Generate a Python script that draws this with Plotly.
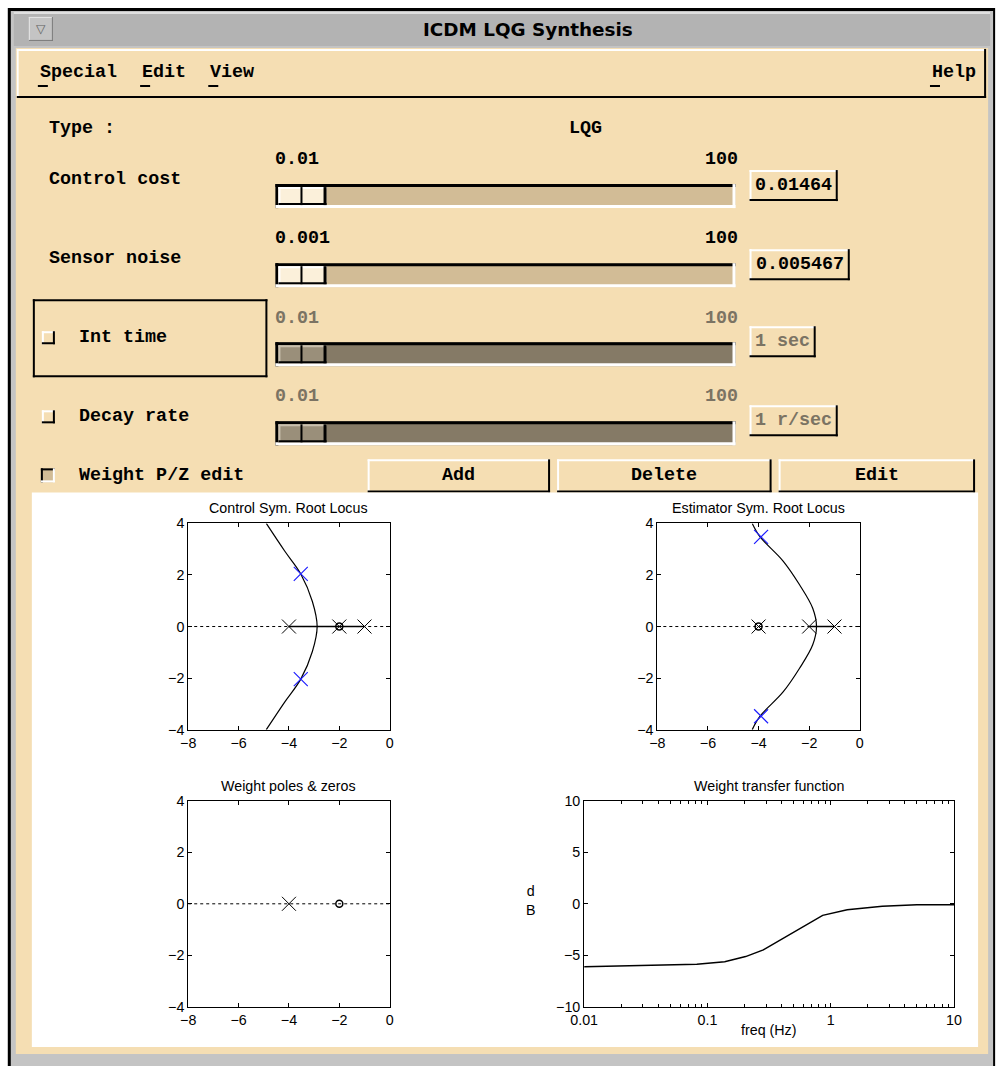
import plotly.graph_objects as go

W, H = 996, 1066

# ------------------------------------------------------------------ data
window_title = "ICDM LQG Synthesis"
menu_items = ["Special", "Edit", "View"]
help_item = "Help"
type_label = "Type :"
type_value = "LQG"
slider_labels = ["Control cost", "Sensor noise", "Int time", "Decay rate"]
slider_min = ["0.01", "0.001", "0.01", "0.01"]
slider_max = ["100", "100", "100", "100"]
slider_values = ["0.01464", "0.005467", "1 sec", "1 r/sec"]
slider_enabled = [True, True, False, False]
weight_check_label = "Weight P/Z edit"
buttons = ["Add", "Delete", "Edit"]

plot_titles = ["Control Sym. Root Locus", "Estimator Sym. Root Locus",
               "Weight poles & zeros", "Weight transfer function"]
re_ticks = [-8, -6, -4, -2, 0]
im_ticks = [-4, -2, 0, 2, 4]
re_range = [-8, 0]
im_range = [-4, 4]

# Control symmetric root locus
ctrl_locus_re = [-4.9, -4.17, -3.53, -3.07, -2.88, -3.07, -3.53, -4.17, -4.9]
ctrl_locus_im = [4.0, 2.93, 2.04, 0.97, 0.0, -0.97, -2.04, -2.93, -4.0]
ctrl_real_seg = [-4, -1]
ctrl_poles = [-4, -2, -1]
ctrl_zeros = [-2]
ctrl_cl_re = [-3.53, -3.53]
ctrl_cl_im = [2.04, -2.04]

# Estimator symmetric root locus
est_locus_re = [-4.25, -3.94, -3.03, -2.38, -1.86, -1.71, -1.86, -2.38, -3.03, -3.94, -4.25]
est_locus_im = [4.0, 3.48, 2.54, 1.62, 0.71, 0.0, -0.71, -1.62, -2.54, -3.48, -4.0]
est_real_seg = [-2, -1]
est_poles = [-4, -2, -1]
est_zeros = [-4]
est_cl_re = [-3.9, -3.9]
est_cl_im = [3.48, -3.48]

# Weight poles & zeros
wt_poles = [-4]
wt_zeros = [-2]

# Weight transfer function (magnitude)
wt_freq = [0.01, 0.025, 0.082, 0.138, 0.204, 0.284, 0.394, 0.546, 0.71, 0.86, 1.36, 2.62, 5.0, 10.0]
wt_db = [-6.1, -6.0, -5.87, -5.61, -5.12, -4.47, -3.5, -2.52, -1.71, -1.12, -0.57, -0.24, -0.08, -0.08]
freq_ticks = [0.01, 0.1, 1, 10]
freq_ticktext = ["0.01", "0.1", "1", "10"]
db_ticks = [-10, -5, 0, 5, 10]
db_range = [-10, 10]

# ------------------------------------------------------------------ helpers
TAN = "#f5deb3"
TROUGH = "#d2bc96"
TROUGH_OFF = "#857a66"
OFF_TXT = "#7b7363"
MONO = "Liberation Mono"
SANS = "Liberation Sans"

# compensation for the page being photographed with a small border
OX, SX = 14.2, 0.9756
OY, SY = 8.1, 0.984
FS = 1.0 / 0.98


def px(x):
    return ((x - OX) / SX) / W


def py(y):
    return 1 - ((y - OY) / SY) / H


shapes = []
annotations = []


def R(x0, y0, x1, y1, fill):
    shapes.append(dict(type="rect", xref="paper", yref="paper",
                       x0=px(x0), x1=px(x1), y0=py(y1), y1=py(y0),
                       fillcolor=fill, line=dict(width=0), layer="below"))


def bevel(x0, y0, x1, y1, raised=True, w=2, light="white", dark="black", fill=None):
    if fill:
        R(x0, y0, x1, y1, fill)
    tl = light if raised else dark
    br = dark if raised else light
    R(x0, y0, x1, y0 + w, tl)
    R(x0, y0, x0 + w, y1, tl)
    R(x0, y1 - w, x1, y1, br)
    R(x1 - w, y0, x1, y1, br)


def T(x, y, text, size=18, color="black", family=MONO, xanchor="left", bold=True):
    annotations.append(dict(xref="paper", yref="paper", x=px(x), y=py(y),
                            text=("<b>%s</b>" % text) if bold else text,
                            showarrow=False, xanchor=xanchor, yanchor="middle",
                            font=dict(family=family, size=size * FS, color=color)))


# ------------------------------------------------------------------ window frame
R(-30, -30, W + 30, H + 30, "white")
R(8, 8, 993, H + 30, "black")
R(11, 11, 991, H + 30, "#c4c4c4")
R(14, 14, 988, 46, "#b3b3b3")
R(14, 12, 988, 14, "#e0e0e0")
bevel(29, 17, 53, 41, raised=True, w=1, light="#e6e6e6", dark="#7a7a7a", fill="#c4c4c4")
T(41, 29, "▽", size=12, color="#606060", family="DejaVu Sans", xanchor="center", bold=False)
T(527, 30, window_title, size=18, family="DejaVu Sans", xanchor="center")

R(16, 48, 986, 1053, TAN)
# menubar
bevel(17, 49, 984, 98, raised=True, w=2)
R(19, 51, 981, 95, TAN)
menu_x = [38, 140, 208]
for mx, item in zip(menu_x, menu_items):
    T(mx, 73, item)
    R(mx, 85, mx + 10, 87, "black")
T(928, 73, help_item)
R(928, 85, 938, 87, "black")

# Type
T(47, 128, type_label)
T(566, 128, type_value)

# sliders
row_label_y = [179, 258, 337, 416]
row_limit_y = [159, 238, 318, 396]
trough_top = [184, 263, 342, 421]
box_x1 = [836, 848, 814, 836]
box_top = [170, 249, 326, 405]

# Int time frame
R(33, 299, 267, 301, "black")
R(33, 375, 267, 377, "black")
R(33, 299, 35, 377, "black")
R(265, 299, 267, 377, "black")

for i in range(4):
    on = slider_enabled[i]
    col = "black" if on else OFF_TXT
    if i < 2:
        T(47, row_label_y[i], slider_labels[i])
    else:
        bevel(42, row_label_y[i] - 6, 55, row_label_y[i] + 7, raised=True, w=2)
        T(77, row_label_y[i], slider_labels[i])
    T(273, row_limit_y[i], slider_min[i], color=col)
    T(738, row_limit_y[i], slider_max[i], color=col, xanchor="right")
    ty = trough_top[i]
    bevel(275, ty, 734, ty + 24, raised=False, w=3, fill=TROUGH if on else TROUGH_OFF)
    # thumb
    tcol = "#fbf0da" if on else "#9a8f7a"
    hcol = "white" if on else "#c9bfae"
    R(278, ty + 3, 326, ty + 21, tcol)
    R(278, ty + 3, 326, ty + 5, hcol)
    R(278, ty + 3, 280, ty + 21, hcol)
    R(278, ty + 19, 326, ty + 21, "black")
    R(300, ty + 3, 302, ty + 21, "black")
    R(323, ty + 3, 326, ty + 21, "black")
    # value box
    bevel(748, box_top[i], box_x1[i], box_top[i] + 31, raised=True, w=2, fill=TAN)
    T((748 + box_x1[i]) / 2, box_top[i] + 15, slider_values[i], color=col, xanchor="center")

# Weight P/Z edit
bevel(41, 468, 55, 482, raised=False, w=2, fill=TROUGH)
T(77, 475, weight_check_label)
btn_x = [(367, 549), (556, 770), (777, 973)]
for (bx0, bx1), b in zip(btn_x, buttons):
    bevel(bx0, 459, bx1, 492, raised=True, w=2, fill=TAN)
    T((bx0 + bx1) / 2, 475, b, xanchor="center")

# white graphics area
R(32, 492, 976, 1046, "white")

# ------------------------------------------------------------------ plots
doms = [((188, 389), (523, 729)), ((656, 858), (523, 729)),
        ((188, 389), (800, 1006)), ((583, 952), (800, 1006))]

fig = go.Figure()

tickfont = dict(family=SANS, size=14 * FS, color="black")


def axis_common():
    return dict(showline=True, linecolor="black", linewidth=1, mirror="ticks",
                ticks="inside", ticklen=4, tickcolor="black", tickwidth=1,
                showgrid=False, zeroline=False, tickfont=tickfont, fixedrange=True)


layout_axes = {}
for k, ((x0, x1), (y0, y1)) in enumerate(doms, start=1):
    xa = axis_common()
    ya = axis_common()
    xa.update(domain=[px(x0), px(x1)], anchor="y%d" % k)
    ya.update(domain=[py(y1), py(y0)], anchor="x%d" % k)
    if k < 4:
        xa.update(range=re_range, tickvals=re_ticks)
        ya.update(range=im_range, tickvals=im_ticks)
    else:
        xa.update(type="log", range=[-2, 1], tickvals=freq_ticks, ticktext=freq_ticktext,
                  minor=dict(ticks="inside", ticklen=3, tickcolor="black", dtick="D1", showgrid=False))
        ya.update(range=db_range, tickvals=db_ticks)
    layout_axes["xaxis%d" % k if k > 1 else "xaxis"] = xa
    layout_axes["yaxis%d" % k if k > 1 else "yaxis"] = ya
    cx = (x0 + x1) / 2
    T(cx, y0 - 15, plot_titles[k - 1], size=14, family=SANS, xanchor="center", bold=False)


def xy(k):
    return dict(xaxis="x%d" % k if k > 1 else "x", yaxis="y%d" % k if k > 1 else "y")


def add_locus(k, loc_re, loc_im, seg, poles, zeros, cl_re, cl_im):
    fig.add_trace(go.Scatter(x=re_range, y=[0, 0], mode="lines",
                             line=dict(color="black", width=1, dash="dot"), **xy(k)))
    if seg:
        fig.add_trace(go.Scatter(x=seg, y=[0, 0], mode="lines",
                                 line=dict(color="black", width=1.5), **xy(k)))
    if loc_re:
        fig.add_trace(go.Scatter(x=loc_re, y=loc_im, mode="lines",
                                 line=dict(color="black", width=1.2, shape="spline"), **xy(k)))
    fig.add_trace(go.Scatter(x=poles, y=[0] * len(poles), mode="markers",
                             marker=dict(symbol="x-thin", size=14, line=dict(width=1, color="black")),
                             **xy(k)))
    fig.add_trace(go.Scatter(x=zeros, y=[0] * len(zeros), mode="markers",
                             marker=dict(symbol="circle-open", size=7, color="black",
                                         line=dict(width=1.5, color="black")), **xy(k)))
    if cl_re:
        fig.add_trace(go.Scatter(x=cl_re, y=cl_im, mode="markers",
                                 marker=dict(symbol="x-thin", size=14,
                                             line=dict(width=1.2, color="#2020ff")), **xy(k)))


add_locus(1, ctrl_locus_re, ctrl_locus_im, ctrl_real_seg, ctrl_poles, ctrl_zeros, ctrl_cl_re, ctrl_cl_im)
add_locus(2, est_locus_re, est_locus_im, est_real_seg, est_poles, est_zeros, est_cl_re, est_cl_im)
add_locus(3, None, None, None, wt_poles, wt_zeros, None, None)

fig.add_trace(go.Scatter(x=wt_freq, y=wt_db, mode="lines",
                         line=dict(color="black", width=1.5), **xy(4)))

T(767, 1029, "freq (Hz)", size=14, family=SANS, xanchor="center", bold=False)
T(530, 900, "d<br>B", size=14, family=SANS, xanchor="center", bold=False)

fig.update_layout(width=W, height=H, autosize=False,
                  margin=dict(l=0, r=0, t=0, b=0, pad=0),
                  paper_bgcolor="white", plot_bgcolor="rgba(0,0,0,0)",
                  showlegend=False, shapes=shapes, annotations=annotations,
                  hovermode=False, **layout_axes)

fig.write_html("out.html", config={"displayModeBar": False},
               post_script="document.body.style.margin='0';document.body.style.padding='0';"
                           "document.body.style.overflow='hidden';"
                           "document.documentElement.style.overflow='hidden';")
